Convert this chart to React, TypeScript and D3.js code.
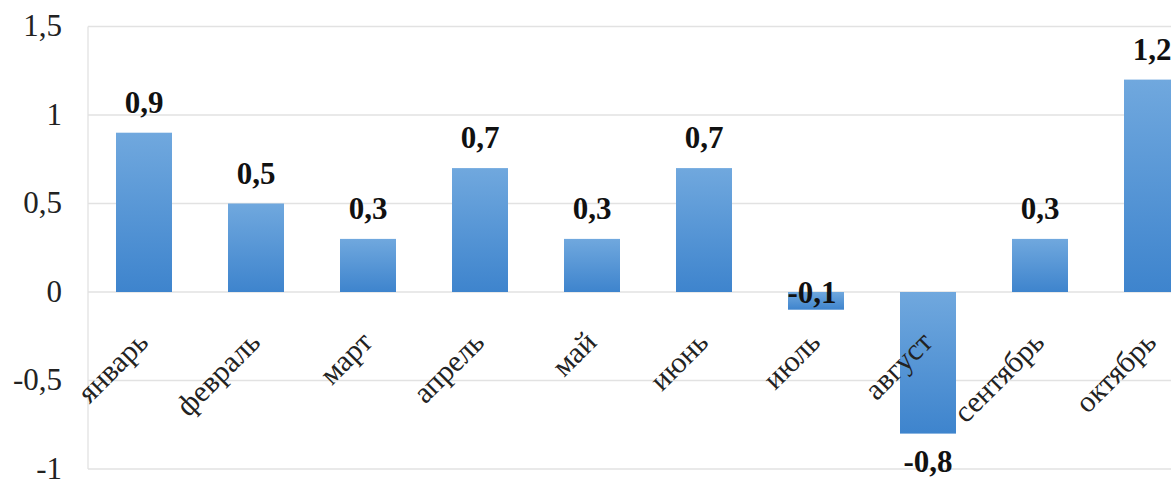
import React from "react";
import * as d3 from "d3";

const months = ["январь", "февраль", "март", "апрель", "май", "июнь", "июль", "август", "сентябрь", "октябрь"];
const values = [0.9, 0.5, 0.3, 0.7, 0.3, 0.7, -0.1, -0.8, 0.3, 1.2];
const yTicks = [-1, -0.5, 0, 0.5, 1, 1.5];

const W = 1171;
const H = 479;
const left = 88;
const step = 112;

const fmt = (v: number) => String(v).replace(".", ",");
const serif = { fontFamily: '"Liberation Serif", "Times New Roman", serif' };

export default function App() {
  const x = d3
    .scaleBand<string>()
    .domain(months)
    .range([left, left + step * months.length])
    .paddingInner(0.5)
    .paddingOuter(0.25);
  const y = d3.scaleLinear().domain([-1, 1.5]).range([469, 26.5]);

  return (
    <svg width={W} height={H} style={{ position: "absolute", left: 0, top: 0, background: "#fff" }}>
      <defs>
        <linearGradient id="barGrad" x1="0" y1="0" x2="0" y2="1">
          <stop offset="0%" stopColor="#70a8de" />
          <stop offset="100%" stopColor="#3e84cd" />
        </linearGradient>
      </defs>
      {yTicks.map((t) => (
        <g key={t}>
          <line x1={left} x2={W} y1={y(t)} y2={y(t)} stroke="#e2e2e2" strokeWidth={1.3} />
          <text x={62} y={y(t)} dy="0.32em" textAnchor="end" style={serif} fontSize={31} fill="#222">
            {fmt(t)}
          </text>
        </g>
      ))}
      <line x1={left} x2={left} y1={y(1.5)} y2={y(-1)} stroke="#e2e2e2" strokeWidth={1.3} />
      {months.map((m, i) => {
        const v = values[i];
        const bx = x(m)!;
        const bw = x.bandwidth();
        const y0 = y(0);
        const yv = y(v);
        const cx = bx + bw / 2;
        let ly: number;
        if (v >= 0) ly = yv - 20;
        else if (v > -0.2) ly = y0 + 11;
        else ly = yv + 38;
        return (
          <g key={m}>
            <rect x={bx} y={Math.min(y0, yv)} width={bw} height={Math.abs(yv - y0)} fill="url(#barGrad)" />
            <text
              x={v > -0.2 && v < 0 ? cx - 4 : cx}
              y={ly}
              textAnchor="middle"
              style={serif}
              fontWeight="bold"
              fontSize={31}
              fill="#111"
            >
              {fmt(v)}
            </text>
            <text
              transform={`translate(${cx + 6},${344}) rotate(-45)`}
              textAnchor="end"
              style={serif}
              fontSize={30}
              fill="#222"
            >
              {m}
            </text>
          </g>
        );
      })}
    </svg>
  );
}
